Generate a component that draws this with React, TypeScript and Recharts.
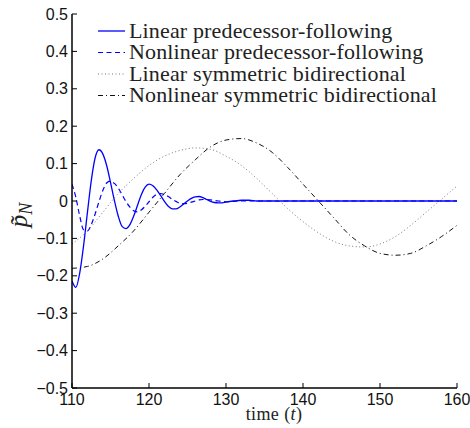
import React from "react";
import { LineChart, Line, XAxis, YAxis, Legend } from "recharts";

// time values + readings for each series
const linPfTime = [
  110, 110.5, 111, 111.5, 112, 112.5, 113, 113.5, 114, 114.5, 115, 115.5, 116, 116.5, 117,
  117.5, 118, 118.5, 119, 119.5, 120, 120.5, 121, 121.5, 122, 122.5, 123, 123.5, 124, 124.5,
  125, 125.5, 126, 126.5, 127, 127.5, 128, 128.5, 129, 129.5, 130, 131, 132, 133, 134, 136,
  140, 150, 160,
];
const linPf = [
  -0.214, -0.231, -0.193, -0.12, -0.031, 0.054, 0.115, 0.137, 0.126, 0.095, 0.05, 0.002, -0.04,
  -0.068, -0.074, -0.064, -0.041, -0.012, 0.017, 0.037, 0.045, 0.041, 0.03, 0.015, -0.001,
  -0.014, -0.021, -0.021, -0.016, -0.008, 0.0, 0.007, 0.011, 0.012, 0.009, 0.004, -0.001,
  -0.004, -0.005, -0.005, -0.003, 0.0, 0.002, 0.002, 0.0, 0.0, 0.0, 0.0, 0.0,
];

const nonPfTime = [
  110, 110.5, 111, 111.5, 112, 112.5, 113, 113.5, 114, 114.5, 115, 115.5, 116, 116.5, 117,
  117.5, 118, 118.5, 119, 119.5, 120, 120.5, 121, 121.5, 122, 122.5, 123, 123.5, 124, 124.5,
  125, 125.5, 126, 126.5, 127, 127.5, 128, 129, 130, 131, 132, 140, 150, 160,
];
const nonPf = [
  0.045, 0.01, -0.04, -0.077, -0.08, -0.063, -0.035, -0.002, 0.028, 0.048, 0.053, 0.047, 0.035,
  0.017, -0.001, -0.016, -0.026, -0.029, -0.024, -0.014, -0.002, 0.01, 0.018, 0.02, 0.017,
  0.012, 0.005, -0.001, -0.006, -0.007, -0.006, -0.003, 0.0, 0.003, 0.004, 0.004, 0.003, 0.0,
  -0.002, -0.001, 0.0, 0.0, 0.0, 0.0,
];

const sbTime = [
  110, 112, 114, 116, 118, 120, 122, 124, 126, 128, 130, 132, 134, 136, 138, 140, 142, 144,
  146, 148, 150, 152, 154, 156, 158, 160,
];
const linSb = [
  -0.115, -0.08, -0.03, 0.02, 0.06, 0.095, 0.12, 0.135, 0.142, 0.138, 0.12, 0.095, 0.06, 0.02,
  -0.02, -0.055, -0.085, -0.108, -0.12, -0.123, -0.115, -0.095, -0.065, -0.03, 0.005, 0.04,
];
const nonSb = [
  -0.18, -0.175, -0.155, -0.12, -0.08, -0.03, 0.02, 0.07, 0.11, 0.145, 0.163, 0.167, 0.155,
  0.13, 0.09, 0.045, 0.0, -0.045, -0.09, -0.12, -0.14, -0.145, -0.14, -0.12, -0.095, -0.065,
];

const xTicks = [110, 120, 130, 140, 150, 160];
const yTicks = [-0.5, -0.4, -0.3, -0.2, -0.1, 0, 0.1, 0.2, 0.3, 0.4, 0.5];

const seriesNames = [
  "Linear predecessor-following",
  "Nonlinear predecessor-following",
  "Linear symmetric bidirectional",
  "Nonlinear symmetric bidirectional",
];

const zip = (ts: number[], vs: number[]) => ts.map((t, i) => ({ t, v: vs[i] }));

const styles = [
  { stroke: "#0000ff", width: 1.3, dash: undefined as string | undefined },
  { stroke: "#0000ff", width: 1.2, dash: "5 3.5" },
  { stroke: "#777777", width: 1, dash: "1 2.5" },
  { stroke: "#111111", width: 1, dash: "5 3 1 3" },
];

const serif = "'Liberation Serif', 'Times New Roman', serif";
const sans = "'Liberation Sans', Arial, sans-serif";

const fmtY = (v: number) => {
  if (v === 0) return "0";
  const s = Math.abs(v).toFixed(1);
  return v < 0 ? "\u2212" + s : s;
};

function LegendBox() {
  return (
    <svg width={470} height={120} style={{ display: "block" }}>
      {seriesNames.map((name, i) => {
        const y = 31 + i * 21.5;
        const st = styles[i];
        return (
          <g key={name}>
            <line
              x1={98}
              x2={125}
              y1={y}
              y2={y}
              stroke={st.stroke}
              strokeWidth={st.width}
              strokeDasharray={st.dash}
            />
            <text x={129} y={y + 6.5} fontFamily={serif} fontSize={22} letterSpacing={0.15} fill="#222">
              {name}
            </text>
          </g>
        );
      })}
    </svg>
  );
}

export default function App() {
  const series = [zip(linPfTime, linPf), zip(nonPfTime, nonPf), zip(sbTime, linSb), zip(sbTime, nonSb)];

  return (
    <div style={{ position: "absolute", left: 0, top: 0, width: 470, height: 428, background: "#fff" }}>
      <LineChart width={470} height={428} margin={{ top: 14, right: 13, bottom: 0, left: 0 }}>
        <XAxis
          dataKey="t"
          type="number"
          domain={[110, 160]}
          ticks={xTicks}
          allowDataOverflow
          height={40}
          tickSize={-5}
          tickMargin={11}
          stroke="#000"
          axisLine={{ stroke: "#000", strokeWidth: 1.5 }}
          tick={{ fill: "#111", fontSize: 16, fontFamily: sans }}
          label={{
            content: () => (
              <text x={274} y={420} textAnchor="middle" fontFamily={serif} fontSize={18} letterSpacing={0.4} fill="#222">
                time (<tspan fontStyle="italic">t</tspan>)
              </text>
            ),
          }}
        />
        <XAxis
          xAxisId="top"
          orientation="top"
          dataKey="t"
          type="number"
          domain={[110, 160]}
          ticks={xTicks}
          allowDataOverflow
          height={0}
          tickSize={-5}
          tick={false}
          stroke="#000"
          axisLine={{ stroke: "#000", strokeWidth: 1.5 }}
        />
        <YAxis
          type="number"
          domain={[-0.5, 0.5]}
          ticks={yTicks}
          allowDataOverflow
          width={72}
          tickSize={-5}
          tickMargin={9}
          tickFormatter={fmtY}
          stroke="#000"
          axisLine={{ stroke: "#000", strokeWidth: 1.5 }}
          tick={{ fill: "#111", fontSize: 16, fontFamily: sans }}
          label={{
            content: () => (
              <text
                x={27}
                y={215}
                transform="rotate(-90 27 215)"
                textAnchor="middle"
                fontFamily={serif}
                fontSize={25}
                fontStyle="italic"
                fill="#222"
              >
                {"p\u0303"}
                <tspan fontSize={18} dy={5}>N</tspan>
              </text>
            ),
          }}
        />
        <YAxis
          yAxisId="right"
          orientation="right"
          type="number"
          domain={[-0.5, 0.5]}
          ticks={yTicks}
          allowDataOverflow
          width={0}
          tickSize={-5}
          tick={false}
          stroke="#000"
          axisLine={{ stroke: "#000", strokeWidth: 1.5 }}
        />
        {series.map((d, i) => (
          <Line
            key={seriesNames[i]}
            data={d}
            dataKey="v"
            name={seriesNames[i]}
            type="monotone"
            stroke={styles[i].stroke}
            strokeWidth={styles[i].width}
            strokeDasharray={styles[i].dash}
            dot={false}
            activeDot={false}
            isAnimationActive={false}
          />
        ))}
        <Legend
          verticalAlign="middle"
          layout="horizontal"
          wrapperStyle={{ position: "absolute", left: 0, top: 0, width: 470, height: 120 }}
          content={() => <LegendBox />}
        />
      </LineChart>
    </div>
  );
}
